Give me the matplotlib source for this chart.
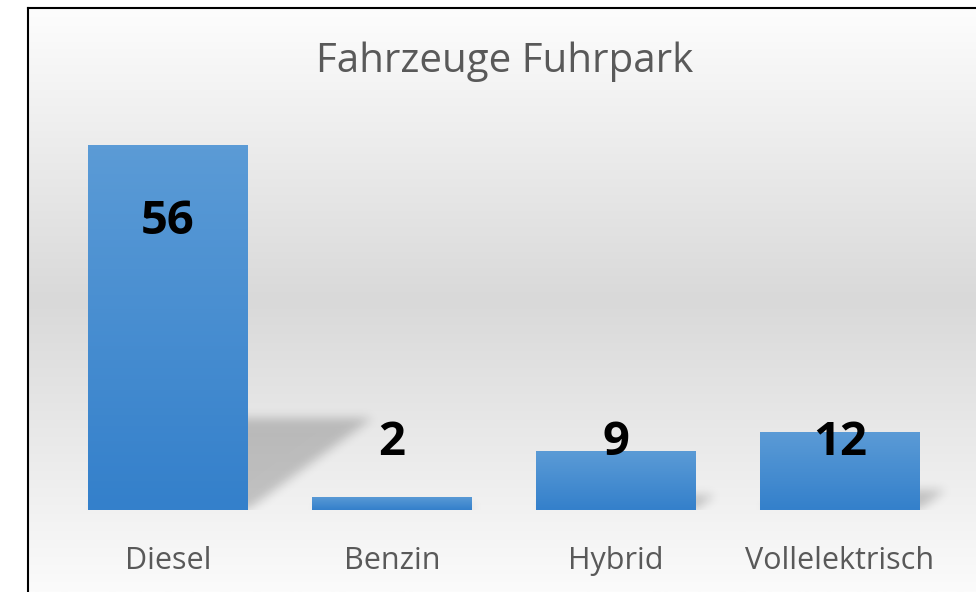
import numpy as np
import matplotlib.pyplot as plt
from matplotlib.path import Path
from matplotlib.colors import LinearSegmentedColormap

# Daten
kategorien = ['Diesel', 'Benzin', 'Hybrid', 'Vollelektrisch']
anzahl = [56, 2, 9, 12]
titel = 'Fahrzeuge Fuhrpark'

plt.rcParams['font.family'] = ['Open Sans', 'DejaVu Sans']

fig = plt.figure(figsize=(9.76, 5.92), dpi=100)
fig.patch.set_facecolor('white')

# Hintergrund mit Verlauf (weiss -> grau -> weiss)
bg = fig.add_axes([0, 0, 1, 1], zorder=0)
bg_cmap = LinearSegmentedColormap.from_list('bg', ['#fdfdfd', '#d9d9d9', '#fbfbfb'])
grad = np.linspace(0, 1, 256).reshape(-1, 1)
bg.imshow(grad, cmap=bg_cmap, aspect='auto', extent=[28 / 976, 1, 0, 1 - 8 / 592],
          origin='upper')
bg.plot([28 / 976, 28 / 976], [0, 1 - 8 / 592], color='black', lw=1.5)
bg.plot([28 / 976, 1], [1 - 8 / 592, 1 - 8 / 592], color='black', lw=1.5)
bg.set_xlim(0, 1)
bg.set_ylim(0, 1)
bg.axis('off')

ax = fig.add_axes([56 / 976, (592 - 510) / 592, 896 / 976, 365 / 592], zorder=1)
ax.patch.set_alpha(0)
x = np.arange(len(kategorien))
bars = ax.bar(x, anzahl, width=0.71, color='none', zorder=3)
xmin, xmax, ymax = -0.5, len(kategorien) - 0.5, 56

# Schatten hinter den Balken: geschert und weichgezeichnet
W, H = 896, 365
gx = np.linspace(xmin, xmax, W)
gy = np.linspace(0, ymax, H)
XX, YY = np.meshgrid(gx, gy)
pts = np.column_stack([XX.ravel(), YY.ravel()])
maske = np.zeros(H * W)
ux = W / (xmax - xmin)
uy = H / ymax
for b in bars:
    x0, x1 = b.get_x(), b.get_x() + b.get_width()
    h = b.get_height()
    dx = 0.34 * h * uy / ux
    dy = 0.25 * h
    poly = Path([(x0, 0), (x1, 0), (x1 + dx, dy), (x0 + dx, dy), (x0, 0)])
    maske = np.maximum(maske, poly.contains_points(pts).astype(float))
maske = maske.reshape(H, W)
sigma = 5
k = np.arange(-3 * sigma, 3 * sigma + 1)
kern = np.exp(-k ** 2 / (2 * sigma ** 2))
kern /= kern.sum()
maske = np.apply_along_axis(lambda r: np.convolve(r, kern, mode='same'), 1, maske)
maske = np.apply_along_axis(lambda c: np.convolve(c, kern, mode='same'), 0, maske)
schatten = np.zeros((H, W, 4))
schatten[..., 3] = 0.2 * maske
ax.imshow(schatten, origin='lower', extent=[xmin, xmax, 0, ymax], aspect='auto', zorder=2)

# Balken mit Farbverlauf
bar_cmap = LinearSegmentedColormap.from_list('bar', ['#3480cb', '#5b9bd6'])
for b in bars:
    x0, w, h = b.get_x(), b.get_width(), b.get_height()
    im = ax.imshow(np.linspace(0, 1, 100).reshape(-1, 1), cmap=bar_cmap, origin='lower',
                   aspect='auto', extent=[x0, x0 + w, 0, h], zorder=3)
    im.set_clip_path(b)
ax.set_xlim(xmin, xmax)
ax.set_ylim(0, ymax)

# Datenbeschriftungen
label_y = [44.3, 10.3, 10.3, 10.3]
for xi, v, ly in zip(x, anzahl, label_y):
    ax.text(xi, ly, str(v), ha='center', va='center', fontsize=34,
            fontweight='bold', color='black', zorder=5)

ax.set_xticks(x)
ax.set_xticklabels(kategorien, fontsize=22, color='#595959')
ax.tick_params(axis='x', length=0, pad=26)
ax.set_yticks([])
for s in ax.spines.values():
    s.set_visible(False)

fig.text(505 / 976, 1 - 62 / 592, titel, ha='center', va='center', fontsize=29,
         color='#595959')

fig.savefig('out.png', dpi=100)
